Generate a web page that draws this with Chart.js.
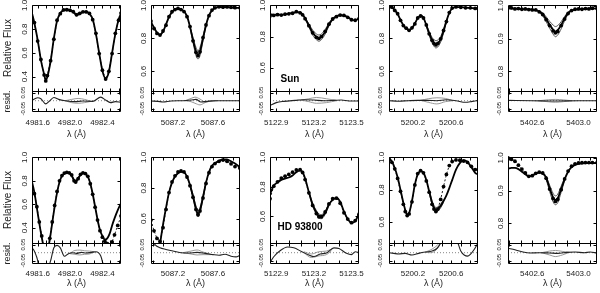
<!DOCTYPE html>
<html>
<head>
<meta charset="utf-8">
<script src="https://cdn.jsdelivr.net/npm/chart.js@4"></script>
<style>
  html, body { margin: 0; padding: 0; background: #fff; overflow: hidden; }
  #fig { position: relative; width: 600px; height: 293px; }
  #fig canvas { position: absolute; }
  .tag { position: absolute; transform: translate(-50%, -50%); font: bold 10px "Liberation Sans", Arial, sans-serif; color: #000; white-space: nowrap; }
</style>
</head>
<body>
<div id="fig"></div>
<script>
// ---- axis settings (one entry per column / panel) ----
const xLim = [[4981.53, 4982.63], [5086.98, 5087.87], [5122.85, 5123.56], [5199.95, 5200.88], [5402.39, 5403.16]];
const xTicks = [[4981.6, 4982.0, 4982.4], [5087.2, 5087.6], [5122.9, 5123.2, 5123.5], [5200.2, 5200.6], [5402.6, 5403.0]];
const fluxMin = [0.28, 0.48, 0.45, 0.48, 0.74, 0.27, 0.44, 0.42, 0.47, 0.74];
const fluxTicks = [[0.4, 0.6, 0.8, 1.0], [0.6, 0.8, 1.0], [0.6, 0.8, 1.0], [0.6, 0.8, 1.0], [0.8, 0.9, 1.0],
                   [0.4, 0.6, 0.8, 1.0], [0.6, 0.8, 1.0], [0.6, 0.8, 1.0], [0.6, 0.8, 1.0], [0.8, 0.9, 1.0]];
const residLim = [[-0.07, 0.06], [-0.07, 0.06]];
const residTicks = [-0.05, 0.05];
const zeroLine = [0, 0];
const starNames = ["Sun", "HD 93800"];

// ---- Sun, 4981 ----
const wl1 = [4981.52,4981.56,4981.60,4981.64,4981.68,4981.70,4981.72,4981.76,4981.80,4981.84,4981.88,4981.92,4981.96,4982.00,4982.04,4982.08,4982.12,4982.16,4982.20,4982.24,4982.28,4982.32,4982.36,4982.40,4982.44,4982.48,4982.52,4982.56,4982.60,4982.63];
const fit1 = [0.96,0.85,0.71,0.54,0.42,0.37,0.40,0.53,0.72,0.87,0.935,0.96,0.965,0.96,0.945,0.922,0.93,0.945,0.948,0.93,0.885,0.76,0.60,0.45,0.385,0.44,0.60,0.76,0.88,0.93];
const obs1 = [0.955,0.855,0.70,0.545,0.415,0.365,0.41,0.535,0.715,0.875,0.93,0.962,0.963,0.958,0.947,0.92,0.932,0.946,0.945,0.932,0.88,0.765,0.595,0.455,0.38,0.445,0.595,0.765,0.875,0.935];
const cw1 = [4982.00,4982.04,4982.08,4982.12,4982.16,4982.20];
const hi1 = [0.962,0.952,0.932,0.938,0.948,0.949];
const lo1 = [0.958,0.938,0.912,0.922,0.942,0.947];
const rw1 = [4981.52,4981.56,4981.60,4981.64,4981.70,4981.74,4981.80,4981.86,4981.94,4982.06,4982.16,4982.28,4982.38,4982.44,4982.50,4982.56,4982.63];
const res1 = [0.0,0.01,0.018,0.012,-0.02,-0.005,0.02,0.008,0.0,-0.006,-0.002,-0.004,0.022,0.004,-0.012,-0.006,-0.01];
const gw1 = [4981.94,4982.02,4982.10,4982.18,4982.26];
const ga1 = [0.0,0.008,0.014,0.008,-0.004];
const gb1 = [0.0,-0.012,-0.016,-0.012,-0.004];

// ---- Sun, 5087 ----
const wl2 = [5086.98,5087.01,5087.04,5087.07,5087.10,5087.13,5087.16,5087.19,5087.22,5087.25,5087.28,5087.31,5087.34,5087.37,5087.40,5087.43,5087.45,5087.47,5087.50,5087.53,5087.56,5087.59,5087.62,5087.66,5087.70,5087.74,5087.78,5087.82,5087.87];
const fit2 = [0.90,0.865,0.835,0.823,0.84,0.885,0.93,0.96,0.976,0.98,0.977,0.965,0.935,0.87,0.79,0.72,0.70,0.72,0.80,0.88,0.94,0.97,0.985,0.99,0.99,0.99,0.988,0.986,0.985];
const obs2 = [0.905,0.86,0.83,0.82,0.845,0.88,0.932,0.962,0.975,0.982,0.975,0.963,0.932,0.872,0.785,0.715,0.695,0.718,0.805,0.882,0.938,0.972,0.986,0.992,0.99,0.991,0.989,0.987,0.986];
const cw2 = [5087.37,5087.40,5087.43,5087.45,5087.47,5087.50,5087.53];
const hi2 = [0.875,0.805,0.745,0.725,0.745,0.815,0.885];
const lo2 = [0.865,0.775,0.695,0.675,0.695,0.785,0.875];
const rw2 = [5086.98,5087.05,5087.10,5087.18,5087.30,5087.38,5087.43,5087.48,5087.54,5087.62,5087.75,5087.87];
const res2 = [-0.002,-0.004,-0.008,-0.002,0.0,0.004,0.008,-0.008,-0.004,0.0,0.0,0.0];
const gw2 = [5087.32,5087.38,5087.42,5087.47,5087.52,5087.58,5087.64];
const ga2 = [0.0,0.014,0.022,0.01,-0.008,-0.002,0.0];
const gb2 = [0.0,-0.006,-0.016,-0.026,-0.012,-0.002,0.0];

// ---- Sun, 5123 ----
const wl3 = [5122.85,5122.88,5122.91,5122.94,5122.97,5123.00,5123.03,5123.06,5123.09,5123.11,5123.13,5123.16,5123.19,5123.22,5123.24,5123.26,5123.29,5123.32,5123.35,5123.38,5123.41,5123.44,5123.47,5123.50,5123.53,5123.56];
const fit3 = [0.945,0.94,0.943,0.94,0.942,0.948,0.952,0.957,0.955,0.943,0.918,0.872,0.826,0.798,0.79,0.798,0.83,0.878,0.912,0.93,0.937,0.935,0.926,0.91,0.904,0.918];
const obs3 = [0.932,0.936,0.941,0.938,0.944,0.946,0.95,0.96,0.953,0.94,0.915,0.87,0.824,0.795,0.788,0.8,0.833,0.88,0.913,0.928,0.938,0.936,0.924,0.908,0.905,0.916];
const cw3 = [5123.13,5123.16,5123.19,5123.22,5123.24,5123.26,5123.29,5123.32,5123.35];
const hi3 = [0.922,0.882,0.842,0.817,0.81,0.817,0.845,0.888,0.916];
const lo3 = [0.914,0.862,0.81,0.78,0.77,0.78,0.815,0.868,0.908];
const rw3 = [5122.85,5122.90,5122.96,5123.05,5123.12,5123.20,5123.28,5123.36,5123.42,5123.48,5123.56];
const res3 = [-0.03,-0.012,-0.004,0.002,0.006,0.004,0.0,0.002,0.004,-0.002,-0.002];
const gw3 = [5123.10,5123.16,5123.22,5123.30,5123.38];
const ga3 = [0.004,0.012,0.02,0.012,0.002];
const gb3 = [0.004,-0.006,-0.016,-0.012,0.0];

// ---- Sun, 5200 ----
const wl4 = [5199.95,5199.98,5200.01,5200.04,5200.07,5200.10,5200.13,5200.16,5200.19,5200.22,5200.25,5200.28,5200.31,5200.34,5200.37,5200.40,5200.42,5200.44,5200.46,5200.49,5200.52,5200.55,5200.58,5200.61,5200.65,5200.70,5200.75,5200.80,5200.85,5200.88];
const fit4 = [0.994,0.988,0.972,0.948,0.912,0.88,0.86,0.851,0.862,0.89,0.922,0.938,0.926,0.88,0.83,0.79,0.772,0.762,0.768,0.795,0.845,0.905,0.955,0.982,0.99,0.99,0.987,0.985,0.983,0.982];
const obs4 = [0.992,0.99,0.97,0.95,0.91,0.878,0.862,0.849,0.864,0.888,0.924,0.936,0.924,0.882,0.828,0.788,0.77,0.76,0.77,0.797,0.848,0.902,0.957,0.984,0.991,0.989,0.986,0.986,0.982,0.983];
const cw4 = [5200.34,5200.37,5200.40,5200.42,5200.44,5200.46,5200.49,5200.52,5200.55];
const hi4 = [0.886,0.842,0.806,0.792,0.786,0.79,0.812,0.858,0.91];
const lo4 = [0.874,0.818,0.772,0.752,0.742,0.748,0.778,0.832,0.9];
const rw4 = [5199.95,5200.05,5200.15,5200.25,5200.35,5200.45,5200.55,5200.65,5200.75,5200.82,5200.88];
const res4 = [0.0,-0.003,0.0,0.002,0.002,0.0,0.006,0.0,-0.01,-0.004,0.002];
const gw4 = [5200.28,5200.36,5200.45,5200.54,5200.62];
const ga4 = [0.002,0.012,0.018,0.014,0.0];
const gb4 = [0.002,-0.01,-0.02,-0.006,0.0];

// ---- Sun, 5402 ----
const wl5 = [5402.39,5402.42,5402.45,5402.48,5402.51,5402.54,5402.57,5402.60,5402.63,5402.66,5402.69,5402.72,5402.75,5402.78,5402.80,5402.82,5402.85,5402.88,5402.91,5402.94,5402.97,5403.00,5403.03,5403.06,5403.09,5403.12,5403.16];
const fit5 = [0.994,0.993,0.992,0.992,0.991,0.99,0.99,0.989,0.987,0.983,0.975,0.96,0.943,0.928,0.922,0.926,0.942,0.962,0.978,0.986,0.989,0.99,0.991,0.991,0.992,0.992,0.993];
const obs5 = [0.993,0.994,0.991,0.992,0.99,0.991,0.989,0.988,0.988,0.982,0.974,0.958,0.94,0.924,0.918,0.922,0.94,0.96,0.977,0.986,0.99,0.991,0.99,0.992,0.991,0.993,0.992];
const cw5 = [5402.66,5402.69,5402.72,5402.75,5402.78,5402.80,5402.82,5402.85,5402.88,5402.91,5402.94];
const hi5 = [0.985,0.979,0.967,0.953,0.942,0.937,0.94,0.952,0.968,0.981,0.987];
const lo5 = [0.981,0.97,0.952,0.932,0.914,0.906,0.911,0.93,0.955,0.975,0.985];
const rw5 = [5402.39,5402.60,5402.80,5403.00,5403.16];
const res5 = [0.002,0.0,-0.002,0.0,0.0];
const gw5 = [5402.66,5402.74,5402.80,5402.87,5402.94];
const ga5 = [0.0,0.006,0.008,0.005,0.0];
const gb5 = [0.0,-0.007,-0.01,-0.006,0.0];

// ---- HD 93800, 4981 ----
const wl6 = [4981.52,4981.56,4981.59,4981.62,4981.65,4981.68,4981.70,4981.72,4981.75,4981.78,4981.81,4981.84,4981.87,4981.90,4981.93,4981.96,4981.99,4982.02,4982.05,4982.07,4982.10,4982.13,4982.16,4982.19,4982.22,4982.25,4982.28,4982.31,4982.34,4982.37,4982.40,4982.43,4982.46,4982.49,4982.52,4982.55,4982.59,4982.63];
const fit6 = [0.82,0.70,0.57,0.44,0.32,0.22,0.19,0.21,0.30,0.44,0.58,0.70,0.79,0.84,0.862,0.87,0.865,0.845,0.805,0.795,0.82,0.852,0.866,0.86,0.835,0.78,0.69,0.58,0.47,0.38,0.33,0.30,0.31,0.35,0.42,0.48,0.55,0.61];
const obs6 = [0.81,0.69,0.58,0.45,0.33,0.23,0.2,0.22,0.31,0.45,0.59,0.71,0.8,0.845,0.866,0.872,0.868,0.85,0.8,0.79,0.818,0.855,0.868,0.862,0.838,0.775,0.685,0.575,0.465,0.375,0.32,0.285,0.265,0.25,0.28,0.34,0.42,0.5];
const cw6 = [4982.02,4982.05,4982.07,4982.10,4982.13];
const hi6 = [0.852,0.815,0.806,0.828,0.856];
const lo6 = [0.838,0.795,0.783,0.81,0.848];
const rw6 = [4981.52,4981.55,4981.59,4981.63,4981.72,4981.76,4981.80,4981.84,4981.88,4981.93,4981.98,4982.03,4982.08,4982.14,4982.20,4982.26,4982.32,4982.38,4982.42,4982.46,4982.63];
const res6 = [0.03,0.018,-0.03,-0.1,-0.1,-0.05,0.03,0.045,0.03,-0.022,-0.006,0.0,-0.004,0.002,-0.002,0.002,0.006,-0.02,-0.09,-0.12,-0.12];
const gw6 = [4982.00,4982.06,4982.12,4982.18,4982.24,4982.30];
const ga6 = [-0.004,0.014,0.016,0.012,0.01,0.006];
const gb6 = [-0.006,-0.01,-0.014,-0.01,-0.008,0.004];

// ---- HD 93800, 5087 ----
const wl7 = [5086.98,5087.01,5087.04,5087.07,5087.10,5087.13,5087.16,5087.19,5087.22,5087.25,5087.28,5087.31,5087.34,5087.37,5087.40,5087.43,5087.45,5087.47,5087.50,5087.53,5087.56,5087.59,5087.62,5087.66,5087.70,5087.74,5087.78,5087.82,5087.87];
const fit7 = [0.25,0.22,0.28,0.43,0.56,0.67,0.77,0.835,0.875,0.897,0.906,0.903,0.875,0.82,0.745,0.665,0.632,0.655,0.74,0.835,0.905,0.945,0.963,0.978,0.988,0.987,0.975,0.96,0.935];
const obs7 = [0.59,0.52,0.47,0.45,0.54,0.66,0.77,0.84,0.88,0.905,0.912,0.905,0.872,0.815,0.74,0.66,0.625,0.65,0.735,0.83,0.9,0.94,0.96,0.975,0.983,0.975,0.958,0.94,0.93];
const cw7 = [5087.37,5087.40,5087.43,5087.45,5087.47,5087.50,5087.53];
const hi7 = [0.828,0.758,0.682,0.65,0.672,0.752,0.842];
const lo7 = [0.812,0.732,0.648,0.612,0.638,0.728,0.828];
const rw7 = [5086.98,5087.02,5087.07,5087.13,5087.20,5087.28,5087.36,5087.44,5087.52,5087.60,5087.66,5087.72,5087.78,5087.83,5087.87];
const res7 = [0.09,0.05,0.03,0.02,0.01,0.0,-0.002,0.002,-0.004,-0.012,-0.016,-0.01,-0.022,-0.026,-0.016];
const gw7 = [5087.30,5087.38,5087.44,5087.50,5087.58];
const ga7 = [0.0,0.01,0.017,0.004,-0.01];
const gb7 = [0.0,-0.008,-0.014,-0.012,-0.012];

// ---- HD 93800, 5123 ----
const wl8 = [5122.85,5122.88,5122.91,5122.94,5122.97,5123.00,5123.03,5123.06,5123.09,5123.11,5123.13,5123.16,5123.19,5123.22,5123.24,5123.26,5123.29,5123.32,5123.35,5123.38,5123.41,5123.44,5123.47,5123.50,5123.53,5123.56];
const fit8 = [0.75,0.81,0.83,0.848,0.857,0.864,0.878,0.9,0.91,0.902,0.858,0.765,0.68,0.627,0.603,0.598,0.625,0.68,0.712,0.726,0.7,0.634,0.582,0.556,0.568,0.62];
const obs8 = [0.72,0.805,0.835,0.86,0.873,0.885,0.9,0.915,0.918,0.898,0.85,0.76,0.675,0.62,0.598,0.598,0.63,0.685,0.72,0.724,0.69,0.625,0.582,0.558,0.572,0.615];
const cw8 = [5123.16,5123.19,5123.22,5123.24,5123.26,5123.29,5123.32];
const hi8 = [0.772,0.69,0.64,0.617,0.612,0.637,0.688];
const lo8 = [0.758,0.67,0.614,0.588,0.585,0.613,0.672];
const rw8 = [5122.85,5122.88,5122.93,5122.99,5123.04,5123.10,5123.16,5123.20,5123.25,5123.30,5123.36,5123.40,5123.46,5123.50,5123.53,5123.56];
const res8 = [-0.06,-0.025,0.012,0.035,0.03,0.008,-0.014,-0.024,-0.008,-0.002,0.03,0.026,-0.004,-0.012,0.006,0.0];
const gw8 = [5123.12,5123.18,5123.24,5123.30,5123.34];
const ga8 = [0.006,-0.008,0.006,0.01,0.022];
const gb8 = [0.0,-0.03,-0.02,-0.012,0.012];

// ---- HD 93800, 5200 ----
const wl9 = [5199.95,5199.98,5200.01,5200.04,5200.07,5200.10,5200.12,5200.14,5200.16,5200.19,5200.22,5200.25,5200.28,5200.31,5200.34,5200.37,5200.40,5200.42,5200.44,5200.46,5200.49,5200.52,5200.55,5200.58,5200.61,5200.65,5200.69,5200.73,5200.77,5200.81,5200.85,5200.88];
const fit9 = [0.995,0.975,0.935,0.878,0.80,0.72,0.675,0.645,0.655,0.73,0.83,0.895,0.915,0.905,0.86,0.79,0.72,0.69,0.675,0.68,0.7,0.73,0.765,0.81,0.86,0.925,0.965,0.984,0.972,0.94,0.905,0.895];
const obs9 = [0.99,0.97,0.93,0.87,0.79,0.71,0.665,0.64,0.65,0.725,0.83,0.9,0.918,0.905,0.855,0.785,0.71,0.68,0.665,0.68,0.74,0.82,0.895,0.95,0.975,0.985,0.983,0.978,0.97,0.945,0.925,0.925];
const cw9 = [5200.37,5200.40,5200.42,5200.44,5200.46,5200.49,5200.52];
const hi9 = [0.798,0.732,0.704,0.69,0.694,0.712,0.738];
const lo9 = [0.782,0.708,0.676,0.66,0.666,0.688,0.722];
const rw9 = [5199.95,5200.00,5200.05,5200.12,5200.19,5200.26,5200.33,5200.40,5200.45,5200.48,5200.51,5200.55,5200.62,5200.67,5200.70,5200.74,5200.77,5200.80,5200.84,5200.88];
const res9 = [0.0,-0.004,-0.008,-0.004,-0.014,-0.004,0.004,0.01,0.026,0.05,0.09,0.14,0.13,0.06,0.01,-0.016,-0.021,-0.01,0.02,0.06];
const gw9 = [5200.33,5200.38,5200.42,5200.46,5200.50];
const ga9 = [0.004,0.016,0.03,0.05,0.09];
const gb9 = [0.004,0.0,0.006,0.03,0.07];

// ---- HD 93800, 5402 ----
const wl10 = [5402.39,5402.42,5402.45,5402.48,5402.51,5402.54,5402.57,5402.60,5402.63,5402.66,5402.69,5402.72,5402.75,5402.78,5402.80,5402.82,5402.85,5402.88,5402.91,5402.94,5402.97,5403.00,5403.03,5403.06,5403.09,5403.12,5403.16];
const fit10 = [0.967,0.97,0.97,0.966,0.958,0.95,0.944,0.946,0.952,0.955,0.953,0.94,0.908,0.88,0.872,0.877,0.905,0.935,0.958,0.972,0.979,0.982,0.983,0.984,0.984,0.984,0.984];
const obs10 = [1.0,0.996,0.99,0.978,0.966,0.954,0.944,0.946,0.953,0.957,0.954,0.938,0.905,0.876,0.867,0.873,0.903,0.936,0.96,0.975,0.982,0.985,0.986,0.986,0.986,0.986,0.986];
const cw10 = [5402.72,5402.75,5402.78,5402.80,5402.82,5402.85,5402.88];
const hi10 = [0.945,0.917,0.892,0.884,0.889,0.914,0.94];
const lo10 = [0.935,0.898,0.866,0.857,0.863,0.895,0.93];
const rw10 = [5402.39,5402.45,5402.52,5402.58,5402.66,5402.75,5402.82,5402.90,5402.97,5403.05,5403.10,5403.16];
const res10 = [0.028,0.018,0.004,-0.002,0.0,-0.002,-0.004,0.002,0.004,0.0,0.004,-0.002];
const gw10 = [5402.68,5402.75,5402.80,5402.86,5402.92];
const ga10 = [0.0,0.01,0.014,0.008,0.002];
const gb10 = [0.0,-0.014,-0.024,-0.014,0.002];

const panels = [
  {wl: wl1, fit: fit1, obs: obs1, cw: cw1, hi: hi1, lo: lo1, rw: rw1, res: res1, gw: gw1, ga: ga1, gb: gb1},
  {wl: wl2, fit: fit2, obs: obs2, cw: cw2, hi: hi2, lo: lo2, rw: rw2, res: res2, gw: gw2, ga: ga2, gb: gb2},
  {wl: wl3, fit: fit3, obs: obs3, cw: cw3, hi: hi3, lo: lo3, rw: rw3, res: res3, gw: gw3, ga: ga3, gb: gb3},
  {wl: wl4, fit: fit4, obs: obs4, cw: cw4, hi: hi4, lo: lo4, rw: rw4, res: res4, gw: gw4, ga: ga4, gb: gb4},
  {wl: wl5, fit: fit5, obs: obs5, cw: cw5, hi: hi5, lo: lo5, rw: rw5, res: res5, gw: gw5, ga: ga5, gb: gb5},
  {wl: wl6, fit: fit6, obs: obs6, cw: cw6, hi: hi6, lo: lo6, rw: rw6, res: res6, gw: gw6, ga: ga6, gb: gb6},
  {wl: wl7, fit: fit7, obs: obs7, cw: cw7, hi: hi7, lo: lo7, rw: rw7, res: res7, gw: gw7, ga: ga7, gb: gb7},
  {wl: wl8, fit: fit8, obs: obs8, cw: cw8, hi: hi8, lo: lo8, rw: rw8, res: res8, gw: gw8, ga: ga8, gb: gb8},
  {wl: wl9, fit: fit9, obs: obs9, cw: cw9, hi: hi9, lo: lo9, rw: rw9, res: res9, gw: gw9, ga: ga9, gb: gb9},
  {wl: wl10, fit: fit10, obs: obs10, cw: cw10, hi: hi10, lo: lo10, rw: rw10, res: res10, gw: gw10, ga: ga10, gb: gb10}
];

// ---- layout ----
const FONT = '"Liberation Sans", Arial, Helvetica, sans-serif';
const PLOT_LEFT = [32, 151, 270, 389, 508];
const PLOT_W = 89;
const AXIS_W = 32;
const RIGHT_PAD = 16;
const ROW_TOP = [0, 152];
const XAXIS_H = [34, 29];
const TICK = 3;

const pts = (xs, ys) => xs.map((x, i) => ({x, y: ys[i]}));

// box around main + residual panels and inward tick marks on every side
const panelFrame = {
  id: "panelFrame",
  afterDraw(chart) {
    const {ctx} = chart;
    const x = chart.scales.x, y = chart.scales.y, r = chart.scales.yres;
    const L = Math.round(x.left) + 0.5, R = Math.round(x.right) - 0.5;
    const T = Math.round(y.top) + 0.5, M = Math.round(y.bottom) + 0.5, B = Math.round(r.bottom) - 0.5;
    ctx.save();
    ctx.strokeStyle = "#000";
    ctx.lineWidth = 1;
    ctx.beginPath();
    ctx.rect(L, T, R - L, B - T);
    ctx.moveTo(L, M); ctx.lineTo(R, M);
    // x ticks every 0.1 A
    for (let v = Math.ceil(x.min * 10 - 1e-6) / 10; v <= x.max + 1e-9; v = Math.round(v * 10 + 1) / 10) {
      const px = Math.round(x.getPixelForValue(v)) + 0.5;
      ctx.moveTo(px, T); ctx.lineTo(px, T + TICK);
      ctx.moveTo(px, M - TICK); ctx.lineTo(px, M + TICK);
      ctx.moveTo(px, B); ctx.lineTo(px, B - TICK);
    }
    for (const s of [y, r]) {
      for (const t of s.ticks) {
        const py = Math.round(s.getPixelForValue(t.value)) + 0.5;
        ctx.moveTo(L, py); ctx.lineTo(L + TICK, py);
        ctx.moveTo(R, py); ctx.lineTo(R - TICK, py);
      }
    }
    ctx.stroke();
    ctx.restore();
  }
};

const fig = document.getElementById("fig");

panels.forEach((d, i) => {
  const row = i < 5 ? 0 : 1;
  const col = i % 5;
  const cv = document.createElement("canvas");
  const W = AXIS_W + PLOT_W + RIGHT_PAD;
  const H = 5 + 107 + XAXIS_H[row];
  cv.width = W; cv.height = H;
  cv.style.left = (PLOT_LEFT[col] - AXIS_W) + "px";
  cv.style.top = ROW_TOP[row] + "px";
  fig.appendChild(cv);

  const lineBase = {pointRadius: 0, cubicInterpolationMode: "monotone", clip: 0};

  new Chart(cv, {
    type: "line",
    data: {
      datasets: [
        {data: pts(d.wl, d.obs), yAxisID: "y", borderColor: "#000", borderWidth: 0.9, borderDash: [2, 2],
         pointRadius: 1.9, pointBackgroundColor: "#000", pointBorderWidth: 0, clip: {left: 0, right: 0, top: 2, bottom: 0}},
        {...lineBase, data: pts(d.wl, d.fit), yAxisID: "y", borderColor: "#000", borderWidth: 1.8},
        {...lineBase, data: pts(d.cw, d.hi), yAxisID: "y", borderColor: "#444", borderWidth: 0.9},
        {...lineBase, data: pts(d.cw, d.lo), yAxisID: "y", borderColor: "#444", borderWidth: 0.9},
        {...lineBase, data: pts(d.rw, d.res), yAxisID: "yres", borderColor: "#222", borderWidth: 1.1},
        {...lineBase, data: pts(d.gw, d.ga), yAxisID: "yres", borderColor: "#8c8c8c", borderWidth: 0.9},
        {...lineBase, data: pts(d.gw, d.gb), yAxisID: "yres", borderColor: "#8c8c8c", borderWidth: 0.9},
        {...lineBase, data: pts(xLim[col], zeroLine), yAxisID: "yres", borderColor: "#666", borderWidth: 0.8, borderDash: [1, 2]}
      ]
    },
    options: {
      responsive: false,
      animation: false,
      events: [],
      layout: {padding: {top: 5, right: RIGHT_PAD, left: 0, bottom: 0}},
      plugins: {legend: {display: false}, tooltip: {enabled: false}},
      scales: {
        x: {
          type: "linear", position: "bottom", min: xLim[col][0], max: xLim[col][1],
          grid: {display: false, drawTicks: false}, border: {display: false},
          ticks: {font: {family: FONT, size: 8}, color: "#222", padding: row ? 5 : 6, autoSkip: false,
                  minRotation: 0, maxRotation: 0, callback: v => Number(v).toFixed(1)},
          afterBuildTicks: s => { s.ticks = xTicks[col].map(v => ({value: v})); },
          afterFit: s => { s.height = XAXIS_H[row]; s.paddingLeft = 0; s.paddingRight = 0; },
          title: {display: true, text: "λ (Å)", font: {family: FONT, size: 9}, color: "#222",
                  padding: {top: 0, bottom: row ? 4 : 6}}
        },
        y: {
          type: "linear", position: "left", stack: "p", stackWeight: 86, weight: 1,
          min: fluxMin[i], max: 1.003,
          grid: {display: false, drawTicks: false}, border: {display: false},
          ticks: {font: {family: FONT, size: 8}, color: "#222", padding: 2, minRotation: 90, maxRotation: 90,
                  autoSkip: false, crossAlign: "center", callback: v => Number(v).toFixed(1)},
          afterBuildTicks: s => { s.ticks = fluxTicks[i].map(v => ({value: v})); },
          afterFit: s => { s.width = AXIS_W; s.paddingTop = 0; s.paddingBottom = 0; },
          title: {display: col === 0, text: "Relative Flux", font: {family: FONT, size: 10}, color: "#222",
                  padding: {top: 2, bottom: 0}}
        },
        yres: {
          type: "linear", axis: "y", position: "left", stack: "p", stackWeight: 21, weight: 0,
          min: residLim[row][0], max: residLim[row][1],
          grid: {display: false, drawTicks: false}, border: {display: false},
          ticks: {font: {family: FONT, size: 6}, color: "#222", padding: 2, minRotation: 90, maxRotation: 90,
                  autoSkip: false, crossAlign: "center", callback: v => Number(v).toFixed(2)},
          afterBuildTicks: s => { s.ticks = residTicks.map(v => ({value: v})); },
          afterFit: s => { s.width = AXIS_W; s.paddingTop = 0; s.paddingBottom = 0; },
          title: {display: col === 0, text: "resid.", font: {family: FONT, size: 9}, color: "#222",
                  padding: {top: 2.5, bottom: 0}}
        }
      }
    },
    plugins: [panelFrame]
  });
});

// star names inside the middle panels
[[290, 78], [300, 226]].forEach(([cx, cy], k) => {
  const el = document.createElement("div");
  el.className = "tag";
  el.style.left = cx + "px";
  el.style.top = cy + "px";
  el.textContent = starNames[k];
  fig.appendChild(el);
});
</script>
</body>
</html>
